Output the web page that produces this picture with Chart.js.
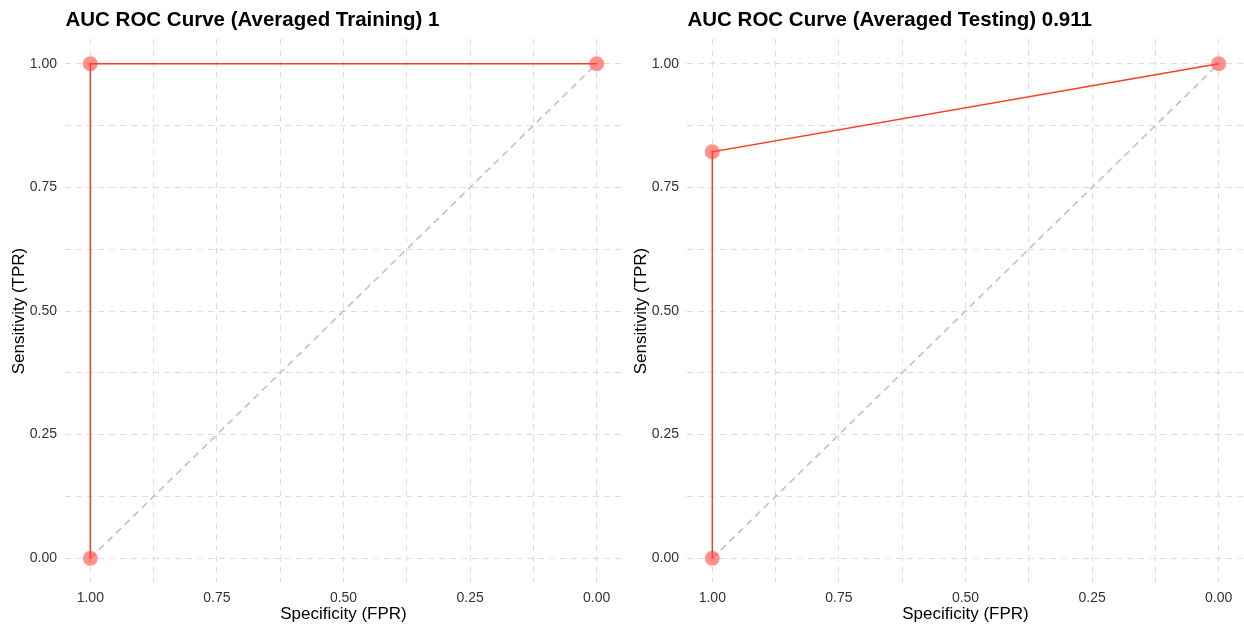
<!DOCTYPE html>
<html>
<head>
<meta charset="utf-8">
<script src="https://cdn.jsdelivr.net/npm/chart.js@4"></script>
<style>
  body { margin: 0; background: #fff; }
  .wrap { display: flex; width: 1244px; height: 627px; }
  .panel { width: 622px; height: 627px; position: relative; }
</style>
</head>
<body>
<div class="wrap">
  <div class="panel"><canvas id="trainChart"></canvas></div>
  <div class="panel"><canvas id="testChart"></canvas></div>
</div>
<script>
// --- data ---
const trainTitle = 'AUC ROC Curve (Averaged Training) 1';
const testTitle = 'AUC ROC Curve (Averaged Testing) 0.911';
const trainSpecificity = [1, 1, 0];
const trainSensitivity = [0, 1, 1];
const testSpecificity = [1, 1, 0];
const testSensitivity = [0, 0.822, 1];
const chanceX = [1, 0];
const chanceY = [0, 1];
const gridTicks = [0, 0.125, 0.25, 0.375, 0.5, 0.625, 0.75, 0.875, 1];

const FONT = "'Liberation Sans', Arial, Helvetica, sans-serif";
const toPts = (xs, ys) => xs.map((x, i) => ({ x, y: ys[i] }));

// title drawn at the left edge of the plot area (ggplot style)
const panelTitle = {
  id: 'panelTitle',
  afterDraw(chart, args, opts) {
    const { ctx, chartArea } = chart;
    ctx.save();
    ctx.font = 'bold 20.5px ' + FONT;
    ctx.fillStyle = '#000';
    ctx.textBaseline = 'middle';
    ctx.fillText(opts.text, chartArea.left + 0.5, 20);
    ctx.restore();
  }
};

function makeChart(id, title, xs, ys) {
  const tickLabel = v => (Math.abs(v * 4 - Math.round(v * 4)) < 1e-6 ? v.toFixed(2) : '');
  const axisGrid = { color: '#dcdcdc', lineWidth: 1, drawTicks: false };
  const axisBorder = { display: false, dash: [6, 5] };

  new Chart(document.getElementById(id), {
    type: 'scatter',
    data: {
      datasets: [
        {
          data: toPts(chanceX, chanceY),
          showLine: true,
          borderColor: '#bdbdbd',
          borderWidth: 1.5,
          borderDash: [7, 5],
          pointRadius: 0,
          order: 2
        },
        {
          data: toPts(xs, ys),
          showLine: true,
          borderColor: '#ff3b24',
          borderWidth: 1.5,
          pointRadius: 7.5,
          pointBackgroundColor: 'rgba(255, 70, 60, 0.6)',
          pointBorderWidth: 0,
          order: 1
        }
      ]
    },
    options: {
      responsive: false,
      animation: false,
      layout: { autoPadding: false, padding: { top: 39, right: 0, left: 0, bottom: 0 } },
      plugins: {
        legend: { display: false },
        tooltip: { enabled: false },
        panelTitle: { text: title }
      },
      scales: {
        x: {
          type: 'linear',
          reverse: true,
          min: -0.05,
          max: 1.05,
          afterBuildTicks: s => { s.ticks = gridTicks.map(v => ({ value: v })); },
          afterFit: s => { s.height = 44; s.paddingLeft = 0; s.paddingRight = 0; },
          grid: axisGrid,
          border: axisBorder,
          ticks: {
            autoSkip: false,
            maxRotation: 0,
            padding: 7,
            color: '#333',
            font: { family: FONT, size: 14 },
            callback: tickLabel
          },
          title: {
            display: true,
            text: 'Specificity (FPR)',
            color: '#000',
            font: { family: FONT, size: 17 },
            padding: { top: 0, bottom: 2 }
          }
        },
        y: {
          type: 'linear',
          min: -0.05,
          max: 1.05,
          afterBuildTicks: s => { s.ticks = gridTicks.map(v => ({ value: v })); },
          afterFit: s => { s.width = 65; s.paddingTop = 0; s.paddingBottom = 0; },
          grid: axisGrid,
          border: axisBorder,
          ticks: {
            autoSkip: false,
            padding: 8,
            color: '#333',
            font: { family: FONT, size: 14 },
            callback: tickLabel
          },
          title: {
            display: true,
            text: 'Sensitivity (TPR)',
            color: '#000',
            font: { family: FONT, size: 17 },
            padding: { top: 9, bottom: 0 }
          }
        }
      }
    },
    plugins: [panelTitle]
  });
}

['trainChart', 'testChart'].forEach(id => {
  const c = document.getElementById(id);
  c.width = 622;
  c.height = 627;
});

makeChart('trainChart', trainTitle, trainSpecificity, trainSensitivity);
makeChart('testChart', testTitle, testSpecificity, testSensitivity);
</script>
</body>
</html>
